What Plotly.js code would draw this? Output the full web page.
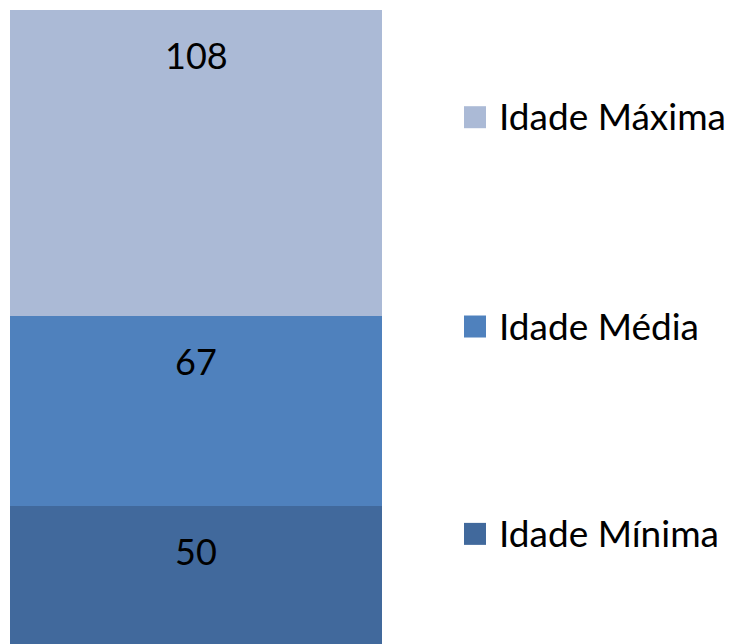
<!DOCTYPE html>
<html><head><meta charset="utf-8">
<script src="https://cdn.plot.ly/plotly-3.0.1.min.js"></script>
<style>html,body{margin:0;padding:0;background:#fff}#c{width:733px;height:644px}</style>
</head><body><div id="c"></div>
<script>
const category = ["Idade"];
const seriesNames = ["Idade Mínima", "Idade Média", "Idade Máxima"];
const seriesValues = [50, 67, 108];
const seriesColors = ["#41699C", "#4F81BD", "#ABBAD6"];
const legendY = [0.173, 0.495, 0.820];

const FONT = "Lato, 'Open Sans', sans-serif";
const traces = seriesNames.map((n, i) => ({
  type: "bar", name: n, x: category, y: [seriesValues[i]],
  marker: {color: seriesColors[i], line: {width: 0}},
  width: 1, showlegend: false, hoverinfo: "skip"
}));

const annotations = [];
const shapes = [];
let cum = 0;
seriesValues.forEach((v, i) => {
  cum += v;
  annotations.push({x: category[0], y: cum, xref: "x", yref: "y", text: String(v),
    showarrow: false, yanchor: "middle", yshift: -45, font: {family: FONT, size: 36, color: "#000"}});
  annotations.push({x: 497/733, y: legendY[i], xref: "paper", yref: "paper", text: seriesNames[i],
    showarrow: false, xanchor: "left", yanchor: "middle", font: {family: FONT, size: 37, color: "#000"}});
  shapes.push({type: "rect", xref: "paper", yref: "paper",
    x0: 464/733, x1: 486/733, y0: legendY[i] - 11/644 - 0.002, y1: legendY[i] + 11/644 - 0.002,
    fillcolor: seriesColors[i], line: {width: 0}});
});

Plotly.newPlot("c", traces, {
  width: 733, height: 644, barmode: "stack", bargap: 0,
  margin: {l: 0, r: 0, t: 0, b: 0},
  paper_bgcolor: "#fff", plot_bgcolor: "#fff",
  xaxis: {domain: [10/733, 382/733], range: [-0.5, 0.5], visible: false, fixedrange: true},
  yaxis: {range: [1.3, 228.5], visible: false, fixedrange: true},
  annotations, shapes
}, {staticPlot: true});
</script></body></html>
